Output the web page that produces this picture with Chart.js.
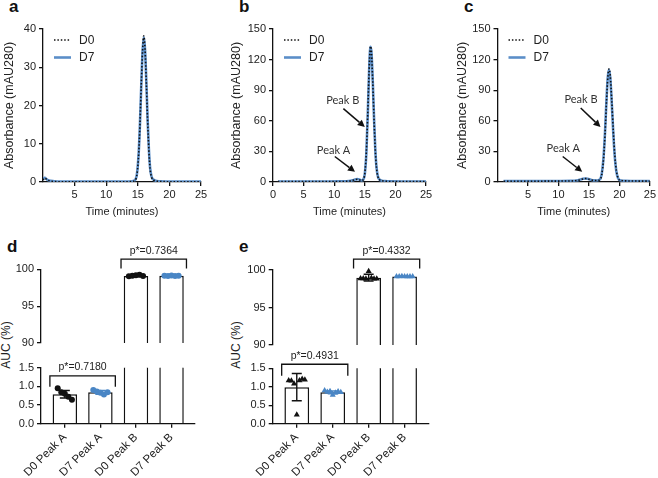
<!DOCTYPE html>
<html><head><meta charset="utf-8">
<script src="https://cdn.jsdelivr.net/npm/chart.js@4.4.1/dist/chart.umd.min.js"></script>
<style>
html,body{margin:0;padding:0;background:#fff;}
body{width:658px;height:478px;overflow:hidden;position:relative;font-family:"Liberation Sans",Arial,sans-serif;color:#222}
canvas{position:absolute}
.lab{position:absolute;font-weight:bold;font-size:17px;line-height:20px;color:#111}
.vt{position:absolute;transform:translate(-50%,-50%) rotate(-90deg);white-space:nowrap;font-size:12px;line-height:14px;color:#222}
</style></head><body>
<div class="lab" style="left:9px;top:-3px">a</div>
<div class="lab" style="left:239px;top:-3px">b</div>
<div class="lab" style="left:464px;top:-3px">c</div>
<div class="lab" style="left:7px;top:237px">d</div>
<div class="lab" style="left:239px;top:237px">e</div>
<div class="vt" style="left:6px;top:345px">AUC (%)</div>
<div class="vt" style="left:236px;top:345px">AUC (%)</div>
<script>
// ---------------- DATA ----------------
// Panel a chromatogram
const timeA = [0, 0.15, 0.3, 0.5, 0.8, 1.2, 2, 4, 8, 12, 14, 14.6, 14.9, 15.15, 15.35, 15.55, 15.75, 15.95, 16.15, 16.35, 16.55, 16.75, 16.95, 17.2, 17.5, 18, 19, 21, 25];
const aD0 = [0.5, 0.9, 1.0, 0.8, 0.45, 0.25, 0.1, 0.05, 0.05, 0.05, 0.1, 0.5, 2.4, 7.6, 15.4, 25.4, 34.2, 38.2, 34.6, 26, 16.2, 8.4, 3.4, 1.2, 0.5, 0.2, 0.1, 0.05, 0.05];
const aD7 = [0.6, 1.0, 1.1, 0.85, 0.5, 0.3, 0.15, 0.1, 0.1, 0.1, 0.15, 0.6, 2.6, 7.9, 15.6, 25.3, 33.9, 37.8, 34.5, 26.2, 16.5, 8.7, 3.6, 1.3, 0.6, 0.25, 0.15, 0.1, 0.1];
// Panel b chromatogram
const timeB = [0.8, 3, 6, 9, 11, 12.4, 13.0, 13.4, 13.75, 14.1, 14.45, 14.75, 15.0, 15.25, 15.5, 15.7, 15.85, 15.95, 16.1, 16.3, 16.5, 16.7, 16.9, 17.15, 17.45, 17.8, 18.3, 19, 21, 25];
const bD0 = [0.4, 0.4, 0.4, 0.4, 0.5, 0.8, 1.5, 2.3, 2.7, 2.3, 1.4, 2.2, 8.5, 29, 70.5, 109, 129, 133, 126, 98, 63, 33, 14.5, 5, 2, 1.2, 0.8, 0.5, 0.4, 0.4];
const bD7 = [0.5, 0.5, 0.5, 0.5, 0.6, 0.9, 1.6, 2.4, 2.8, 2.4, 1.5, 2.3, 8.0, 28, 69, 108, 128.5, 132.5, 126, 99, 64, 34, 15, 5.3, 2.2, 1.3, 0.9, 0.6, 0.5, 0.5];
// Panel c chromatogram
const timeC = [1, 4, 7, 10, 12, 13.0, 13.6, 14.0, 14.4, 14.8, 15.3, 15.8, 16.3, 16.8, 17.1, 17.4, 17.65, 17.9, 18.1, 18.3, 18.5, 18.75, 19.0, 19.25, 19.5, 19.8, 20.2, 21, 23, 25];
const cD0 = [0.8, 0.8, 0.8, 0.9, 1.0, 1.4, 2.3, 3.0, 3.4, 3.0, 2.1, 1.5, 1.4, 2.2, 7.2, 22.8, 48, 81, 102.5, 111, 104, 79.7, 50, 25.8, 11.2, 3.7, 1.6, 1.1, 0.9, 0.8];
const cD7 = [0.9, 0.9, 0.9, 1.0, 1.1, 1.5, 2.4, 3.1, 3.5, 3.1, 2.2, 1.6, 1.5, 2.5, 8.0, 24.5, 50, 83, 103, 110, 102, 77, 47.5, 24, 10.3, 3.4, 1.6, 1.1, 0.9, 0.9];
// Tick labels
const xTicksA = [5, 10, 15, 20, 25];
const xTicksB = [0, 5, 10, 15, 20, 25];
const xTicksC = [5, 10, 15, 20, 25];
const yTicksA = [0, 10, 20, 30, 40];
const yTicksBC = [0, 30, 60, 90, 120, 150];
// Bar panels
const categories = ['D0 Peak A', 'D7 Peak A', 'D0 Peak B', 'D7 Peak B'];
const upperTicks = [90, 95, 100];
const upperLabels = ['90', '95', '100'];
const lowerTicks = [0, 0.5, 1, 1.5];
const lowerLabels = ['0.0', '0.5', '1.0', '1.5'];
// Panel d
const dMean = [0.79, 0.84, 99.10, 99.11];
const dSD = [0.10, 0.05, 0.06, 0.04];
const dD0PeakA = [0.95, 0.84, 0.80, 0.72, 0.64];
const dD7PeakA = [0.90, 0.86, 0.83, 0.78, 0.84];
const dD0PeakB = [99.05, 99.14, 99.18, 99.25, 99.08];
const dD7PeakB = [99.12, 99.10, 99.15, 99.08, 99.12];
// Panel e
const eMean = [0.99, 0.85, 98.98, 99.14];
const eSD = [0.37, 0.04, 0.45, 0.03];
const eD0PeakA = [1.17, 1.16, 1.08, 0.24, 1.17, 1.21, 1.19];
const eD7PeakA = [0.90, 0.86, 0.88, 0.78, 0.84, 0.87, 0.85];
const eD0PeakB = [98.86, 98.88, 98.85, 99.82, 98.95, 98.82, 98.84];
const eD7PeakB = [99.15, 99.14, 99.16, 99.12, 99.14, 99.15, 99.13];
// p-value brackets (category span, bracket level, leg end level)
const dBracketUpper = [{from: 2, to: 3, top: 101.37, leg: 100.1, text: 'p*=0.7364'}];
const dBracketLower = [{from: 0, to: 1, top: 1.28, leg: 0.99, text: 'p*=0.7180'}];
const eBracketUpper = [{from: 2, to: 3, top: 101.45, leg: 100.2, text: 'p*=0.4332'}];
const eBracketLower = [{from: 0, to: 1, top: 1.61, leg: 1.30, text: 'p*=0.4931'}];
// Peak annotations (text anchor and arrow, in data units)
const notesB = [
  {text: 'Peak B', tx: 11.4, ty: 80, x1: 11.5, y1: 72, x2: 15.0, y2: 54},
  {text: 'Peak A', tx: 9.9, ty: 31, x1: 10.1, y1: 25, x2: 13.4, y2: 10}
];
const notesC = [
  {text: 'Peak B', tx: 13.7, ty: 81, x1: 13.65, y1: 72.5, x2: 16.9, y2: 54},
  {text: 'Peak A', tx: 10.8, ty: 33, x1: 10.7, y1: 25, x2: 13.9, y2: 10}
];

// ---------------- STYLE / HELPERS ----------------
Chart.defaults.font.family = '"Liberation Sans", Arial, Helvetica, sans-serif';
Chart.defaults.color = '#222';
const AX = '#111', LW = 1.3, BLUE_LINE = '#5b8ec8', BLUE_PT = '#4a86c5', TXT = '#222';

function addCanvas(r) {
  const c = document.createElement('canvas');
  c.width = r.w; c.height = r.h;
  c.style.left = r.l + 'px'; c.style.top = r.t + 'px';
  c.style.width = r.w + 'px'; c.style.height = r.h + 'px';
  document.body.appendChild(c);
  return c;
}

const legendPlugin = {
  id: 'miniLegend',
  afterDraw(chart) {
    const {ctx, chartArea: a} = chart;
    chart.data.datasets.forEach((ds, i) => {
      const y = a.top + 11 + i * 17.5;
      ctx.save();
      ctx.strokeStyle = ds.borderColor; ctx.lineWidth = ds.borderWidth;
      ctx.setLineDash(ds.borderDash || []);
      ctx.beginPath(); ctx.moveTo(a.left + 11, y); ctx.lineTo(a.left + 28, y); ctx.stroke();
      ctx.setLineDash([]);
      ctx.fillStyle = TXT; ctx.font = '12px "Liberation Sans", Arial';
      ctx.textBaseline = 'middle'; ctx.textAlign = 'left';
      ctx.fillText(ds.label, a.left + 36, y + 0.5);
      ctx.restore();
    });
  }
};

function arrow(ctx, x1, y1, x2, y2) {
  const ang = Math.atan2(y2 - y1, x2 - x1), L = 7, W = 3.6;
  const bx = x2 - L * Math.cos(ang), by = y2 - L * Math.sin(ang);
  ctx.beginPath(); ctx.moveTo(x1, y1); ctx.lineTo(bx, by); ctx.stroke();
  ctx.beginPath();
  ctx.moveTo(x2, y2);
  ctx.lineTo(bx + W * Math.sin(ang), by - W * Math.cos(ang));
  ctx.lineTo(bx - W * Math.sin(ang), by + W * Math.cos(ang));
  ctx.closePath(); ctx.fill();
}

function peakPlugin(notes) {
  return {
    id: 'peakNotes',
    afterDatasetsDraw(chart) {
      const {ctx} = chart, xs = chart.scales.x, ys = chart.scales.y;
      ctx.save();
      notes.forEach(n => {
        ctx.font = '11px Lato, "Open Sans", sans-serif'; ctx.fillStyle = '#333';
        ctx.textAlign = 'center'; ctx.textBaseline = 'middle';
        ctx.fillText(n.text, xs.getPixelForValue(n.tx), ys.getPixelForValue(n.ty));
        ctx.strokeStyle = '#111'; ctx.fillStyle = '#111'; ctx.lineWidth = 1.5;
        arrow(ctx, xs.getPixelForValue(n.x1), ys.getPixelForValue(n.y1), xs.getPixelForValue(n.x2), ys.getPixelForValue(n.y2));
      });
      ctx.restore();
    }
  };
}

function axisBase() {
  return {
    border: {display: true, color: AX, width: LW},
    grid: {drawOnChartArea: false, drawTicks: true, tickLength: 4, color: AX, lineWidth: LW, offset: false},
  };
}

function lineChart(cv, ar, times, d0, d7, xTicks, yMax, yTicks, titlePad, notes) {
  const canvas = addCanvas(cv);
  const yw = ar.l - cv.l, xh = cv.t + cv.h - ar.b;
  return new Chart(canvas, {
    type: 'line',
    data: {datasets: [
      {label: 'D0', data: times.map((t, i) => ({x: t, y: d0[i]})), borderColor: AX, borderWidth: 1.6, borderDash: [1.5, 1.9], pointRadius: 0, cubicInterpolationMode: 'monotone', fill: false},
      {label: 'D7', data: times.map((t, i) => ({x: t, y: d7[i]})), borderColor: BLUE_LINE, borderWidth: 2.6, pointRadius: 0, cubicInterpolationMode: 'monotone', fill: false}
    ]},
    options: {
      responsive: false, animation: false, devicePixelRatio: 1,
      layout: {padding: {left: 0, top: ar.t - cv.t, right: cv.l + cv.w - ar.r, bottom: 0}},
      plugins: {legend: {display: false}, tooltip: {enabled: false}},
      scales: {
        x: Object.assign(axisBase(), {
          type: 'linear', min: 0, max: 25,
          afterBuildTicks: s => { s.ticks = xTicks.map(v => ({value: v})); },
          afterFit: s => { s.height = xh; },
          ticks: {padding: 2, font: {size: 11}, color: TXT, maxRotation: 0, autoSkip: false},
          title: {display: true, text: 'Time (minutes)', font: {size: 11}, color: TXT, padding: {top: 0, bottom: 3.4}}
        }),
        y: Object.assign(axisBase(), {
          type: 'linear', min: 0, max: yMax,
          afterBuildTicks: s => { s.ticks = yTicks.map(v => ({value: v})); },
          afterFit: s => { s.width = yw; },
          ticks: {padding: 3, font: {size: 11}, color: TXT},
          title: {display: true, text: 'Absorbance (mAU280)', font: {size: 12.5}, color: TXT, padding: {top: titlePad, bottom: 0}}
        })
      }
    },
    plugins: [legendPlugin, peakPlugin(notes)]
  });
}

function barChart(cv, ar, showX, yMin, yMax, yTicks, yLabels, means, sds, pointSets, shape, radius, brackets) {
  const canvas = addCanvas(cv);
  const yw = ar.l - cv.l, xh = cv.t + cv.h - ar.b;
  const ptColors = [AX, BLUE_PT, AX, BLUE_PT];
  const spread = pointSets[0].length > 5 ? 0.075 : 0.1;
  const datasets = pointSets.map((vals, k) => ({
    type: 'scatter', order: 1, clip: 5, showLine: false,
    data: vals.map((v, j) => ({x: k + (j - (vals.length - 1) / 2) * spread, y: v})),
    backgroundColor: ptColors[k], borderColor: ptColors[k], borderWidth: 0,
    pointStyle: shape, pointRadius: radius
  }));
  datasets.push({
    type: 'bar', order: 2, clip: 0,
    data: means.map((m, i) => ({x: i, y: m})),
    backgroundColor: '#fff', borderColor: AX, borderWidth: 1.5, borderSkipped: 'start',
    barPercentage: 0.86, categoryPercentage: 0.8
  });
  const errPlugin = {
    id: 'errBars',
    afterDatasetsDraw(chart) {
      const {ctx, chartArea: a} = chart, xs = chart.scales.x, ys = chart.scales.y;
      ctx.save();
      ctx.beginPath(); ctx.rect(a.left, a.top - 8, a.right - a.left, a.bottom - a.top + 8); ctx.clip();
      ctx.lineWidth = 1.4;
      means.forEach((m, i) => {
        const x = xs.getPixelForValue(i), yt = ys.getPixelForValue(m + sds[i]), yb = ys.getPixelForValue(m - sds[i]);
        ctx.strokeStyle = ptColors[i];
        ctx.beginPath();
        ctx.moveTo(x, yt); ctx.lineTo(x, yb);
        ctx.moveTo(x - 5, yt); ctx.lineTo(x + 5, yt);
        ctx.moveTo(x - 5, yb); ctx.lineTo(x + 5, yb);
        ctx.stroke();
      });
      ctx.restore();
    }
  };
  const bracketPlugin = {
    id: 'brackets',
    afterDraw(chart) {
      const {ctx} = chart, xs = chart.scales.x, ys = chart.scales.y;
      ctx.save();
      brackets.forEach(b => {
        const x1 = xs.getPixelForValue(b.from - 0.42), x2 = xs.getPixelForValue(b.to + 0.42);
        const yt = ys.getPixelForValue(b.top), yl = ys.getPixelForValue(b.leg);
        ctx.strokeStyle = AX; ctx.lineWidth = 1.3;
        ctx.beginPath(); ctx.moveTo(x1, yl); ctx.lineTo(x1, yt); ctx.lineTo(x2, yt); ctx.lineTo(x2, yl); ctx.stroke();
        ctx.fillStyle = TXT; ctx.font = '10.5px "Liberation Sans", Arial';
        ctx.textAlign = 'center'; ctx.textBaseline = 'alphabetic';
        ctx.fillText(b.text, (x1 + x2) / 2, yt - 5.5);
      });
      ctx.restore();
    }
  };
  return new Chart(canvas, {
    type: 'bar',
    data: {datasets},
    options: {
      responsive: false, animation: false, devicePixelRatio: 1,
      layout: {padding: {left: 0, top: ar.t - cv.t, right: cv.l + cv.w - ar.r, bottom: showX ? 0 : xh}},
      plugins: {legend: {display: false}, tooltip: {enabled: false}},
      scales: {
        x: Object.assign(axisBase(), {
          type: 'linear', min: -0.67, max: 3.66, offset: false, display: showX,
          afterBuildTicks: s => { s.ticks = categories.map((c, i) => ({value: i})); },
          afterFit: s => { s.height = xh; },
          ticks: {padding: 3, font: {size: 11.5}, color: TXT, minRotation: 45, maxRotation: 45, autoSkip: false,
                  callback: (v, i) => categories[i]}
        }),
        y: Object.assign(axisBase(), {
          type: 'linear', min: yMin, max: yMax,
          afterBuildTicks: s => { s.ticks = yTicks.map(v => ({value: v})); },
          afterFit: s => { s.width = yw; },
          ticks: {padding: 3, font: {size: 11}, color: TXT, callback: (v, i) => yLabels[i]}
        })
      }
    },
    plugins: [errPlugin, bracketPlugin]
  });
}

// ---------------- BUILD ----------------
lineChart({l: 0, t: 0, w: 215, h: 222}, {l: 43, t: 29, r: 201, b: 182}, timeA, aD0, aD7, xTicksA, 40, yTicksA, 2.5, []);
lineChart({l: 215, t: 0, w: 225, h: 222}, {l: 273, t: 29, r: 426, b: 182}, timeB, bD0, bD7, xTicksB, 150, yTicksBC, 14.2, notesB);
lineChart({l: 430, t: 0, w: 228, h: 222}, {l: 497.5, t: 29, r: 651.5, b: 182}, timeC, cD0, cD7, xTicksC, 150, yTicksBC, 25.5, notesC);

const dSets = [dD0PeakA, dD7PeakA, dD0PeakB, dD7PeakB];
const eSets = [eD0PeakA, eD7PeakA, eD0PeakB, eD7PeakB];
barChart({l: 0, t: 235, w: 215, h: 130}, {l: 41, t: 269.3, r: 195, b: 354}, false, 90, 100, upperTicks, upperLabels, dMean, dSD, dSets, 'circle', 3, dBracketUpper);
barChart({l: 0, t: 343, w: 215, h: 135}, {l: 41, t: 367.7, r: 195, b: 423.7}, true, 0, 1.5, lowerTicks, lowerLabels, dMean, dSD, dSets, 'circle', 3, dBracketLower);
barChart({l: 230, t: 235, w: 215, h: 130}, {l: 272.7, t: 270, r: 428.3, b: 355}, false, 90, 100, upperTicks, upperLabels, eMean, eSD, eSets, 'triangle', 3.5, eBracketUpper);
barChart({l: 230, t: 343, w: 215, h: 135}, {l: 272.7, t: 368.3, r: 428.3, b: 423.7}, true, 0, 1.5, lowerTicks, lowerLabels, eMean, eSD, eSets, 'triangle', 3.5, eBracketLower);
</script>
</body></html>
